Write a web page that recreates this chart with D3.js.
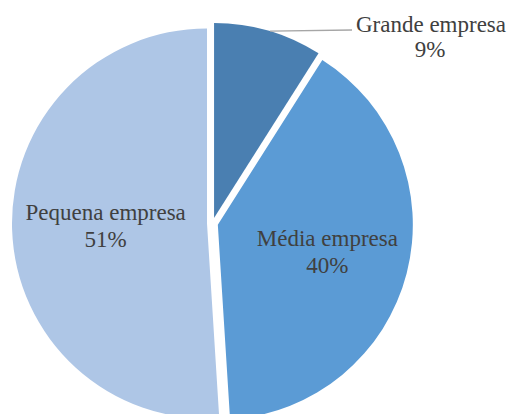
<!DOCTYPE html>
<html>
<head>
<meta charset="utf-8">
<script src="https://cdn.jsdelivr.net/npm/d3@7"></script>
<style>
  html, body { margin: 0; padding: 0; background: #ffffff; }
  svg { display: block; }
  text { font-family: "Liberation Serif", "Times New Roman", serif; fill: #404040; }
</style>
</head>
<body>
<script>
// Company size distribution
const categories = ["Grande empresa", "Média empresa", "Pequena empresa"];
const shares = [9, 40, 51];
const colors = ["#4a7fb1", "#5b9bd5", "#aec6e6"];

const width = 511, height = 414;
const cx = 212.5, cy = 223.3, R = 195;
const explode = 5.5;

const svg = d3.select("body").append("svg")
  .attr("width", width)
  .attr("height", height);

const data = categories.map((c, i) => ({ name: c, value: shares[i], color: colors[i] }));

const pie = d3.pie().value(d => d.value).sort(null);
const arcs = pie(data);
const arc = d3.arc().innerRadius(0).outerRadius(R);

// unit vector along the bisector of a slice (angle measured clockwise from 12 o'clock)
const dir = a => {
  const m = (a.startAngle + a.endAngle) / 2;
  return [Math.sin(m), -Math.cos(m)];
};

const g = svg.append("g").attr("transform", `translate(${cx},${cy})`);

const slices = g.selectAll("g.slice")
  .data(arcs)
  .join("g")
  .attr("class", "slice")
  .attr("transform", a => {
    const [ux, uy] = dir(a);
    return `translate(${ux * explode},${uy * explode})`;
  });

slices.append("path")
  .attr("d", arc)
  .attr("fill", a => a.data.color);

// inside labels for the two large slices
const labelRadius = { "Média empresa": 0.58, "Pequena empresa": 0.52 };
const fontSize = 23, lineGap = 27;

slices.filter(a => labelRadius[a.data.name] !== undefined)
  .each(function(a) {
    const [ux, uy] = dir(a);
    const r = R * labelRadius[a.data.name];
    const t = d3.select(this).append("text")
      .attr("text-anchor", "middle")
      .attr("font-size", fontSize)
      .attr("transform", `translate(${ux * r},${uy * r})`);
    t.append("tspan").attr("x", 0).attr("y", -lineGap / 2 + 7).text(a.data.name);
    t.append("tspan").attr("x", 0).attr("y", lineGap / 2 + 7).text(a.data.value + "%");
  });

// outside label with leader line for the small slice
const small = arcs[0];
const [sx, sy] = dir(small);
const sliceCx = cx + sx * explode, sliceCy = cy + sy * explode;
const leaderStartX = 270;
const leaderStartY = sliceCy - Math.sqrt(R * R - (leaderStartX - sliceCx) ** 2);
const leaderEndX = 352, leaderEndY = 30;

svg.append("line")
  .attr("x1", leaderStartX).attr("y1", leaderStartY)
  .attr("x2", leaderEndX).attr("y2", leaderEndY)
  .attr("stroke", "#a6a6a6")
  .attr("stroke-width", 1.3);

const outer = svg.append("text")
  .attr("text-anchor", "middle")
  .attr("font-size", fontSize);
outer.append("tspan").attr("x", 431).attr("y", 32).text(small.data.name);
outer.append("tspan").attr("x", 430).attr("y", 57).text(small.data.value + "%");
</script>
</body>
</html>
